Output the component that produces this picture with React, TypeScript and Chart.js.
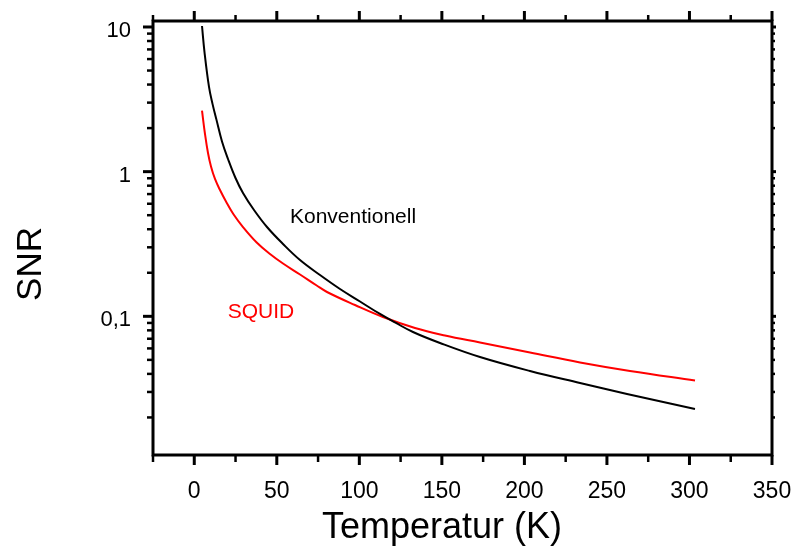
import React, { useEffect, useRef } from "react";
import { Chart, registerables } from "chart.js";

Chart.register(...registerables);

// ---- data ----
const konvT = [
  4.69, 6.2, 8.93, 11.05, 13.47, 16.8, 20.44, 24.98, 29.52, 36.19, 44.06, 53.76, 64.06,
  76.17, 88.29, 100.4, 112.52, 121.61, 132.51, 148.87, 173.1, 203.39, 233.69, 262.16, 303.35,
];
const konvSNR = [
  10.16, 6.71, 3.85, 2.94, 2.28, 1.616, 1.223, 0.904, 0.712, 0.543, 0.4143, 0.3162, 0.245,
  0.193, 0.1545, 0.1266, 0.1038, 0.0907, 0.0779, 0.0654, 0.0523, 0.0419, 0.0346, 0.02905, 0.02288,
];

const squidT = [
  4.69, 6.5, 8.32, 10.14, 12.56, 15.59, 19.22, 23.65, 29.52, 37.82, 45.88, 53.76, 64.06,
  74.17, 80.41, 97.38, 114.34, 133.72, 151.9, 173.1, 203.39, 233.69, 263.98, 303.35,
];
const squidSNR = [
  2.638, 1.821, 1.346, 1.086, 0.89, 0.7467, 0.622, 0.5097, 0.4143, 0.3239, 0.2697, 0.2318, 0.1946,
  0.1633, 0.1473, 0.1197, 0.0989, 0.083, 0.0737, 0.0659, 0.0562, 0.048, 0.0419, 0.036,
];

const xMajorTicks = [0, 50, 100, 150, 200, 250, 300, 350];
const xMinorTicks = [-25, 25, 75, 125, 175, 225, 275, 325];
const yMajorTicks = [10, 1, 0.1];
const yMajorLabels = ["10", "1", "0,1"];
const yMinorTicks = [
  0.02, 0.03, 0.04, 0.05, 0.06, 0.07, 0.08, 0.09,
  0.2, 0.3, 0.4, 0.5, 0.6, 0.7, 0.8, 0.9,
  2, 3, 4, 5, 6, 7, 8, 9,
];

const xTitle = "Temperatur (K)";
const yTitle = "SNR";
const konvLabel = { text: "Konventionell", t: 58, snr: 0.486 };
const squidLabel = { text: "SQUID", t: 20.3, snr: 0.107 };

const FONT = '"Liberation Sans", Arial, Helvetica, sans-serif';

const framePlugin = {
  id: "framePlugin",
  afterDatasetsDraw(chart: any) {
    const ctx = chart.ctx as CanvasRenderingContext2D;
    const { left, right, top, bottom } = chart.chartArea;
    const xs = chart.scales.x;
    const ys = chart.scales.y;
    ctx.save();
    ctx.strokeStyle = "#000";
    ctx.lineCap = "butt";

    // frame
    ctx.lineWidth = 3;
    ctx.strokeRect(left, top, right - left, bottom - top);

    const line = (x1: number, y1: number, x2: number, y2: number, w: number) => {
      ctx.lineWidth = w;
      ctx.beginPath();
      ctx.moveTo(x1, y1);
      ctx.lineTo(x2, y2);
      ctx.stroke();
    };

    // x ticks (bottom & top)
    xMajorTicks.forEach((v) => {
      const px = xs.getPixelForValue(v);
      line(px, bottom, px, bottom + 10, 3);
      line(px, top, px, top - 10, 3);
    });
    xMinorTicks.forEach((v) => {
      const px = xs.getPixelForValue(v);
      line(px, bottom, px, bottom + 7, 2.5);
      line(px, top, px, top - 6, 2.5);
    });
    // y ticks (left & right)
    yMajorTicks.forEach((v) => {
      const py = ys.getPixelForValue(v);
      line(left, py, left - 10, py, 3);
      line(right, py, right + 4, py, 3);
    });
    yMinorTicks.forEach((v) => {
      const py = ys.getPixelForValue(v);
      line(left, py, left - 6, py, 2.5);
      line(right, py, right + 3, py, 2.5);
    });

    // tick labels
    ctx.fillStyle = "#000";
    ctx.font = `23px ${FONT}`;
    ctx.textAlign = "center";
    ctx.textBaseline = "alphabetic";
    xMajorTicks.forEach((v) => {
      ctx.fillText(String(v), xs.getPixelForValue(v), 498);
    });
    ctx.font = `22px ${FONT}`;
    ctx.textAlign = "right";
    yMajorTicks.forEach((v, i) => {
      ctx.fillText(yMajorLabels[i], 131, ys.getPixelForValue(v) + 10);
    });

    // axis titles
    ctx.font = `36px ${FONT}`;
    ctx.textAlign = "center";
    ctx.fillText(xTitle, 442, 538);
    ctx.save();
    ctx.translate(41, 264);
    ctx.rotate(-Math.PI / 2);
    ctx.font = `35px ${FONT}`;
    ctx.fillText(yTitle, 0, 0);
    ctx.restore();

    // curve labels
    ctx.font = `21px ${FONT}`;
    ctx.textAlign = "left";
    ctx.textBaseline = "middle";
    ctx.fillStyle = "#000";
    ctx.fillText(konvLabel.text, xs.getPixelForValue(konvLabel.t), ys.getPixelForValue(konvLabel.snr));
    ctx.fillStyle = "#ff0000";
    ctx.fillText(squidLabel.text, xs.getPixelForValue(squidLabel.t), ys.getPixelForValue(squidLabel.snr));

    ctx.restore();
  },
};

export default function App() {
  const ref = useRef<HTMLCanvasElement>(null);

  useEffect(() => {
    if (!ref.current) return;
    const chart = new Chart(ref.current, {
      type: "line",
      data: {
        datasets: [
          {
            label: "Konventionell",
            data: konvT.map((t, i) => ({ x: t, y: konvSNR[i] })),
            borderColor: "#000000",
            borderWidth: 2,
            pointRadius: 0,
            fill: false,
            tension: 0.4,
          },
          {
            label: "SQUID",
            data: squidT.map((t, i) => ({ x: t, y: squidSNR[i] })),
            borderColor: "#ff0000",
            borderWidth: 2,
            pointRadius: 0,
            fill: false,
            tension: 0.4,
          },
        ],
      },
      options: {
        responsive: false,
        animation: false,
        parsing: false as any,
        layout: { padding: { left: 153, right: 22, top: 21, bottom: 91 } },
        plugins: {
          legend: { display: false },
          tooltip: { enabled: false },
        },
        scales: {
          x: { type: "linear", min: -25, max: 350, display: false },
          y: { type: "logarithmic", min: 0.011, max: 11, display: false },
        },
      },
      plugins: [framePlugin],
    });
    return () => chart.destroy();
  }, []);

  return (
    <div style={{ position: "fixed", left: 0, top: 0, width: 794, height: 546, background: "#fff" }}>
      <canvas ref={ref} width={794} height={546} style={{ display: "block", width: 794, height: 546 }} />
    </div>
  );
}
